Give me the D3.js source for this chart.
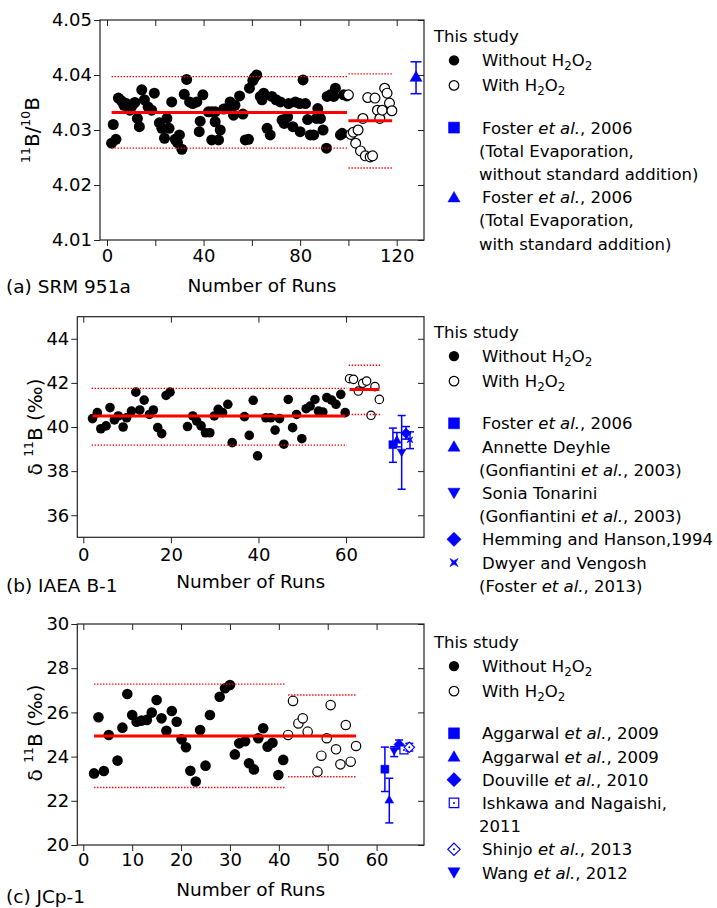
<!DOCTYPE html>
<html>
<head>
<meta charset="utf-8">
<script src="https://cdn.jsdelivr.net/npm/d3@7/dist/d3.min.js"></script>
<style>
  body { margin: 0; background: #fff; }
  text { font-family: "DejaVu Sans", sans-serif; fill: #000; }
</style>
</head>
<body>
<svg id="chart" width="717" height="908"></svg>
<script>
// ---- data: [run, value] ----
const srmWithout = [[1.9,4.0276],[2.6,4.031],[3.7,4.0283],[4.7,4.0358],[6,4.0353],[7,4.0345],[8,4.0348],[9,4.0342],[9.5,4.0336],[10.5,4.0345],[11.5,4.035],[12.6,4.0321],[13.4,4.0306],[14.4,4.0373],[15.5,4.0355],[17,4.0342],[18.5,4.0336],[19.6,4.0367],[21.7,4.0313],[22.7,4.0303],[23.8,4.0285],[24.8,4.0321],[25.7,4.0303],[26.8,4.0351],[28.2,4.0283],[29.2,4.0277],[30,4.0291],[31,4.0265],[32,4.0365],[33,4.0392],[34.2,4.0351],[35.5,4.0348],[37.2,4.0351],[38.2,4.0297],[38.6,4.0316],[39.7,4.0364],[42,4.0333],[43.4,4.0333],[43.4,4.0282],[44.8,4.0315],[44.8,4.0333],[46.2,4.0282],[46.9,4.030],[48.3,4.0338],[50,4.034],[51,4.0351],[52.4,4.0327],[53,4.0345],[54.9,4.0362],[56.3,4.0329],[57.3,4.0282],[58.6,4.0283],[59,4.0376],[60.4,4.039],[61,4.0395],[62,4.040],[63.5,4.0361],[64.2,4.0355],[64.9,4.0367],[66.3,4.0303],[67.6,4.0291],[68.3,4.0361],[70,4.0355],[71.8,4.0351],[72.5,4.0318],[73.4,4.0312],[74.8,4.0324],[75.2,4.0348],[77,4.0306],[78,4.0351],[79.8,4.0348],[80,4.0297],[81.2,4.0391],[82.2,4.0348],[83.1,4.0319],[84.2,4.0291],[85.6,4.0291],[86.7,4.0321],[87.3,4.0339],[88.4,4.0321],[89.5,4.030],[90.9,4.0267],[91.2,4.0361],[92.5,4.0364],[93.9,4.0361],[94.6,4.0376],[96.7,4.0291],[97.4,4.0294],[98,4.0364],[99.4,4.0362]];
const srmWith = [[100,4.0364],[101,4.0292],[102,4.0296],[103,4.0276],[104,4.030],[105,4.0262],[106,4.0321],[107,4.0253],[108,4.0359],[109,4.0251],[110,4.0253],[111,4.0358],[112,4.0336],[113,4.0321],[114,4.0336],[115,4.0376],[116,4.0367],[117,4.0349],[118,4.0335]];
// [from run, to run, value]
const srmMeans = [[1.9,99.4,4.0332],[100,118.1,4.0317]];
const srmLimits = [[1.9,99.4,4.0267],[1.9,99.4,4.0397],[100,118.1,4.0231],[100,118.1,4.0402]];
// [symbol, run, value, low, high]  (the square sits under the triangle)
const srmRefs = [["triangle",128,4.0397,4.0366,4.0424]];

const ibWithout = [[2.1,40.38],[3.2,40.65],[4,39.92],[5.2,40.05],[6.1,40.88],[7.1,40.32],[8,40.5],[9.1,40.0],[9.9,40.42],[11,40.72],[12,41.58],[12.9,40.77],[13.9,41.22],[15.1,40.57],[16,40.77],[17,39.97],[17.9,39.7],[18.9,41.43],[19.8,41.58],[23.8,40.02],[25,40.5],[25.9,40.27],[26.9,40.05],[27.9,39.74],[28.9,39.74],[29.9,40.5],[30.8,40.8],[31.8,40.65],[33,41.03],[34,39.29],[36.8,40.47],[37.9,39.62],[38.8,41.21],[39.8,38.69],[41.7,40.42],[42.8,40.42],[43.8,39.86],[44.8,40.38],[45.8,39.22],[46.8,41.25],[47.8,39.97],[48.7,40.57],[49.9,39.47],[50.9,40.83],[51.8,40.95],[52.9,41.25],[53.7,40.72],[54.7,40.68],[55.6,41.33],[56.7,41.22],[57.7,41.03],[58.8,41.48],[59.8,40.65]];
const ibWith = [[60.8,42.19],[61.7,42.16],[62.8,41.63],[63.8,41.98],[64.7,42.08],[65.7,40.53],[66.6,41.83],[67.6,41.25]];
const ibMeans = [[2.1,59.8,40.5],[60.8,67.6,41.7]];
const ibLimits = [[1.9,60.2,39.18],[1.9,60.2,41.75],[60.6,67.8,40.57],[60.6,67.8,42.8]];
const ibRefs = [["square",70.7,39.2,38.4,39.95],["triangle",71.6,39.42,39.1,39.75],["down",72.7,38.84,37.18,40.52],["diamond",73.7,39.72,39.45,40.02],["hourglass",74.6,39.42,39.02,39.78]];

const jcWithout = [[2.2,23.24],[3.1,25.78],[4.2,23.35],[5.2,24.98],[7,23.82],[8,25.31],[9,26.83],[10,25.88],[10.9,25.58],[11.9,25.63],[13,25.66],[14,25.99],[15,26.56],[16,25.73],[17,25.17],[18.1,26.06],[19.1,25.58],[20.1,24.78],[21,24.42],[21.9,23.36],[23,22.87],[23.9,25.2],[25,23.59],[25.9,25.88],[27.9,26.71],[29,27.09],[30,27.24],[31,24.1],[31.9,24.6],[33.1,24.7],[33.9,23.7],[34.9,23.42],[35.8,24.83],[36.8,25.28],[37.7,24.45],[38.7,24.63],[39.9,23.17],[40.9,23.85]];
const jcWith = [[41.9,24.98],[42.9,26.52],[44,25.5],[44.9,25.73],[45.9,25.13],[47.9,23.32],[48.7,24.04],[49.8,24.83],[50.6,26.33],[51.7,24.33],[52.6,23.65],[53.7,25.43],[54.7,23.77],[55.8,24.48]];
const jcMeans = [[2.2,55.8,24.93]];
const jcLimits = [[2.2,41.2,22.6],[2.2,41.2,27.28],[41.9,55.9,23.09],[41.9,55.9,26.79]];
const jcRefs = [["square",61.7,23.43,22.42,24.43],["triangle",62.6,22.05,21.0,23.02],["down",63.6,24.25,24.0,24.45],["diamond",64.6,24.55,24.35,24.75],["openSquare",65.6,24.3,24.15,24.45],["openDiamond",66.7,24.42,24.25,24.6]];

// tick values
const srmYTicks = [4.01, 4.02, 4.03, 4.04, 4.05];
const srmXTicks = [0, 40, 80, 120];
const ibYTicks = [36, 38, 40, 42, 44];
const ibXTicks = [0, 20, 40, 60];
const jcYTicks = [20, 22, 24, 26, 28, 30];
const jcXTicks = [0, 10, 20, 30, 40, 50, 60];

// legend texts: [marker, parts]
const h2o2 = pre => [[pre + " H"], ["2", "sub"], ["O"], ["2", "sub"]];
const srmLegend = [
  ["square", [["Foster "], ["et al.", "it"], [", 2006"]]],
  [null, [["(Total Evaporation,"]]],
  [null, [["without standard addition)"]]],
  ["triangle", [["Foster "], ["et al.", "it"], [", 2006"]]],
  [null, [["(Total Evaporation,"]]],
  [null, [["with standard addition)"]]]
];
const ibLegend = [
  ["square", [["Foster "], ["et al.", "it"], [", 2006"]]],
  ["triangle", [["Annette Deyhle"]]],
  [null, [["(Gonfiantini "], ["et al.", "it"], [", 2003)"]]],
  ["down", [["Sonia Tonarini"]]],
  [null, [["(Gonfiantini "], ["et al.", "it"], [", 2003)"]]],
  ["diamond", [["Hemming and Hanson,1994"]]],
  ["hourglass", [["Dwyer and Vengosh"]]],
  [null, [["(Foster "], ["et al.", "it"], [", 2013)"]]]
];
const jcLegend = [
  ["square", [["Aggarwal "], ["et al.", "it"], [", 2009"]]],
  ["triangle", [["Aggarwal "], ["et al.", "it"], [", 2009"]]],
  ["diamond", [["Douville "], ["et al.", "it"], [", 2010"]]],
  ["openSquare", [["Ishkawa and Nagaishi,"]]],
  [null, [[" 2011"]]],
  ["openDiamond", [["Shinjo "], ["et al.", "it"], [", 2013"]]],
  ["down", [["Wang "], ["et al.", "it"], [", 2012"]]]
];

const BLUE = "#0000ff", RED = "#ff0000";
const svg = d3.select("#chart");
const line = d3.line();

function symbolPath(key, s) {
  const h = s / 2;
  if (key === "square" || key === "openSquare") return line([[-h,-h],[h,-h],[h,h],[-h,h]]) + "Z";
  if (key === "triangle") return line([[0,-h*1.05],[h*1.1,h*0.85],[-h*1.1,h*0.85]]) + "Z";
  if (key === "down") return line([[0,h*1.05],[h*1.1,-h*0.85],[-h*1.1,-h*0.85]]) + "Z";
  if (key === "diamond" || key === "openDiamond") return line([[0,-h*1.3],[h*1.3,0],[0,h*1.3],[-h*1.3,0]]) + "Z";
  if (key === "hourglass") {
    const k = h * 0.75;
    return line([[-k,-k],[0,-k*0.45],[k,-k],[k*0.45,0],[k,k],[0,k*0.45],[-k,k],[-k*0.45,0]]) + "Z";
  }
}

function drawSymbol(g, key, cx, cy, s) {
  const open = key.startsWith("open");
  g.append("path").attr("d", symbolPath(key, s))
    .attr("transform", `translate(${cx},${cy})`)
    .attr("fill", open ? "#fff" : BLUE)
    .attr("stroke", BLUE).attr("stroke-width", open ? 1.2 : 0.5);
  if (open) g.append("circle").attr("cx", cx).attr("cy", cy).attr("r", 1).attr("fill", BLUE);
}

function richText(t, parts, size) {
  parts.forEach(([str, st]) => {
    const ts = t.append("tspan").text(str);
    if (st === "it") ts.attr("font-style", "italic");
    if (st === "sub") ts.attr("font-size", size * 0.72).attr("dy", 4);
    if (st === "sup") ts.attr("font-size", size * 0.62).attr("dy", -9);
    ts.datum(st);
  });
  // undo the shift after a sub/superscript
  t.selectAll("tspan").each(function (d, i, nodes) {
    const prev = i > 0 ? d3.select(nodes[i - 1]).datum() : null;
    if ((prev === "sub" || prev === "sup") && d !== prev) {
      d3.select(this).attr("dy", prev === "sub" ? -4 : 9);
    }
  });
}

function drawPanel(p) {
  const x = d3.scaleLinear().domain(p.xDomain).range([p.left, p.right]);
  const y = d3.scaleLinear().domain(p.yDomain).range([p.bottom, p.top]);
  const g = svg.append("g");

  const styleAxis = a => {
    a.select(".domain").remove();
    a.attr("font-family", '"DejaVu Sans", sans-serif').attr("font-size", 18);
    a.selectAll("line").attr("stroke", "#222");
  };
  g.append("g").attr("transform", `translate(0,${p.bottom})`)
    .call(d3.axisBottom(x).tickValues(p.xMinor).tickSize(6).tickPadding(p.xPad)
      .tickFormat(d => p.xTicks.includes(d) ? d : ""))
    .call(styleAxis);
  g.append("g").attr("transform", `translate(0,${p.top})`)
    .call(d3.axisTop(x).tickValues(p.xMinor).tickSize(-6).tickFormat(""))
    .call(styleAxis);
  g.append("g").attr("transform", `translate(${p.left},0)`)
    .call(d3.axisLeft(y).tickValues(p.yTicks).tickSize(6).tickPadding(2).tickFormat(p.yFormat))
    .call(styleAxis);
  g.append("g").attr("transform", `translate(${p.right},0)`)
    .call(d3.axisRight(y).tickValues(p.yTicks).tickSize(-6).tickFormat(""))
    .call(styleAxis);
  g.append("rect").attr("x", p.left).attr("y", p.top)
    .attr("width", p.right - p.left).attr("height", p.bottom - p.top)
    .attr("fill", "none").attr("stroke", "#222").attr("stroke-width", 1.2);

  // measured points
  g.selectAll(null).data(p.without).enter().append("circle")
    .attr("cx", d => x(d[0])).attr("cy", d => y(d[1])).attr("r", p.r).attr("fill", "#000");
  g.selectAll(null).data(p.with).enter().append("circle")
    .attr("cx", d => x(d[0])).attr("cy", d => y(d[1])).attr("r", p.r - 0.6)
    .attr("fill", "#fff").attr("stroke", "#000").attr("stroke-width", 1.2);

  // mean and limit lines
  g.selectAll(null).data(p.limits).enter().append("line")
    .attr("x1", d => x(d[0])).attr("x2", d => x(d[1]))
    .attr("y1", d => y(d[2])).attr("y2", d => y(d[2]))
    .attr("stroke", RED).attr("stroke-width", 1.4).attr("stroke-dasharray", "1.4,1.6");
  g.selectAll(null).data(p.means).enter().append("line")
    .attr("x1", d => x(d[0])).attr("x2", d => x(d[1]))
    .attr("y1", d => y(d[2])).attr("y2", d => y(d[2]))
    .attr("stroke", RED).attr("stroke-width", 3);

  // literature values
  p.refs.forEach(([key, run, v, lo, hi]) => {
    const cx = x(run), cap = p.cap;
    g.append("line").attr("x1", cx).attr("x2", cx).attr("y1", y(lo)).attr("y2", y(hi))
      .attr("stroke", BLUE).attr("stroke-width", 1.5);
    [lo, hi].forEach(e => g.append("line").attr("x1", cx - cap).attr("x2", cx + cap)
      .attr("y1", y(e)).attr("y2", y(e)).attr("stroke", BLUE).attr("stroke-width", 1.5));
    drawSymbol(g, key, cx, y(v), p.sym);
  });

  // axis titles
  g.append("text").attr("x", (p.left + p.right) / 2).attr("y", p.titleY)
    .attr("text-anchor", "middle").attr("font-size", 18.5).text("Number of Runs");
  g.append("text").attr("x", 6).attr("y", p.labelY).attr("font-size", 18.5).text(p.label);
  const yt = g.append("text").attr("text-anchor", "middle").attr("font-size", 20)
    .attr("transform", `translate(${p.yTitleX},${p.yTitleY}) rotate(-90)`);
  richText(yt, p.yTitle, 20);

  // legend
  const lg = g.append("g").attr("font-size", 16.5);
  const base = p.legendY + 6;
  lg.append("text").attr("x", 434).attr("y", base).text("This study");
  lg.append("circle").attr("cx", 454).attr("cy", base + 24.4 - 6).attr("r", 5.2).attr("fill", "#000");
  richText(lg.append("text").attr("x", 482).attr("y", base + 24.4), h2o2("Without"), 16.5);
  lg.append("circle").attr("cx", 454).attr("cy", base + 49.4 - 6).attr("r", 4.8)
    .attr("fill", "#fff").attr("stroke", "#000").attr("stroke-width", 1.2);
  richText(lg.append("text").attr("x", 482).attr("y", base + 49.4), h2o2("With"), 16.5);
  p.legend.forEach(([key, parts], i) => {
    const ty = base + 91.6 + 23.2 * i;
    if (key) drawSymbol(lg, key, 454, ty - 6, key.startsWith("open") ? 9.5 : 11);
    richText(lg.append("text").attr("x", key ? 482 : 479).attr("y", ty), parts, 16.5);
  });
}

drawPanel({
  left: 100, right: 424, top: 20, bottom: 240,
  xDomain: [-2.9, 131.3], yDomain: [4.01, 4.05],
  xTicks: srmXTicks, xMinor: [0, 20, 40, 60, 80, 100, 120], yTicks: srmYTicks,
  yFormat: d3.format(".2f"), xPad: 3,
  without: srmWithout, with: srmWith, means: srmMeans, limits: srmLimits, refs: srmRefs,
  r: 5.5, sym: 11, cap: 5.5,
  titleY: 292, labelY: 293, label: "(a) SRM 951a",
  yTitle: [["11", "sup"], ["B/"], ["10", "sup"], ["B"]], yTitleX: 39, yTitleY: 130,
  legendY: 36, legend: srmLegend
});
drawPanel({
  left: 77.3, right: 424, top: 316.7, bottom: 537.3,
  xDomain: [-1.37, 77.8], yDomain: [35, 45],
  xTicks: ibXTicks, xMinor: ibXTicks, yTicks: ibYTicks,
  yFormat: d3.format("d"), xPad: 5,
  without: ibWithout, with: ibWith, means: ibMeans, limits: ibLimits, refs: ibRefs,
  r: 4.8, sym: 8, cap: 4,
  titleY: 588, labelY: 591.5, label: "(b) IAEA B-1",
  yTitle: [["δ "], ["11", "sup"], ["B (‰)"]], yTitleX: 42, yTitleY: 427,
  legendY: 331.7, legend: ibLegend
});
drawPanel({
  left: 77.3, right: 424, top: 624, bottom: 845,
  xDomain: [-1.23, 69.7], yDomain: [20, 30],
  xTicks: jcXTicks, xMinor: jcXTicks, yTicks: jcYTicks,
  yFormat: d3.format("d"), xPad: 2,
  without: jcWithout, with: jcWith, means: jcMeans, limits: jcLimits, refs: jcRefs,
  r: 5.3, sym: 8, cap: 4,
  titleY: 896, labelY: 903, label: "(c) JCp-1",
  yTitle: [["δ "], ["11", "sup"], ["B (‰)"]], yTitleX: 42, yTitleY: 733,
  legendY: 641.7, legend: jcLegend
});
</script>
</body>
</html>
